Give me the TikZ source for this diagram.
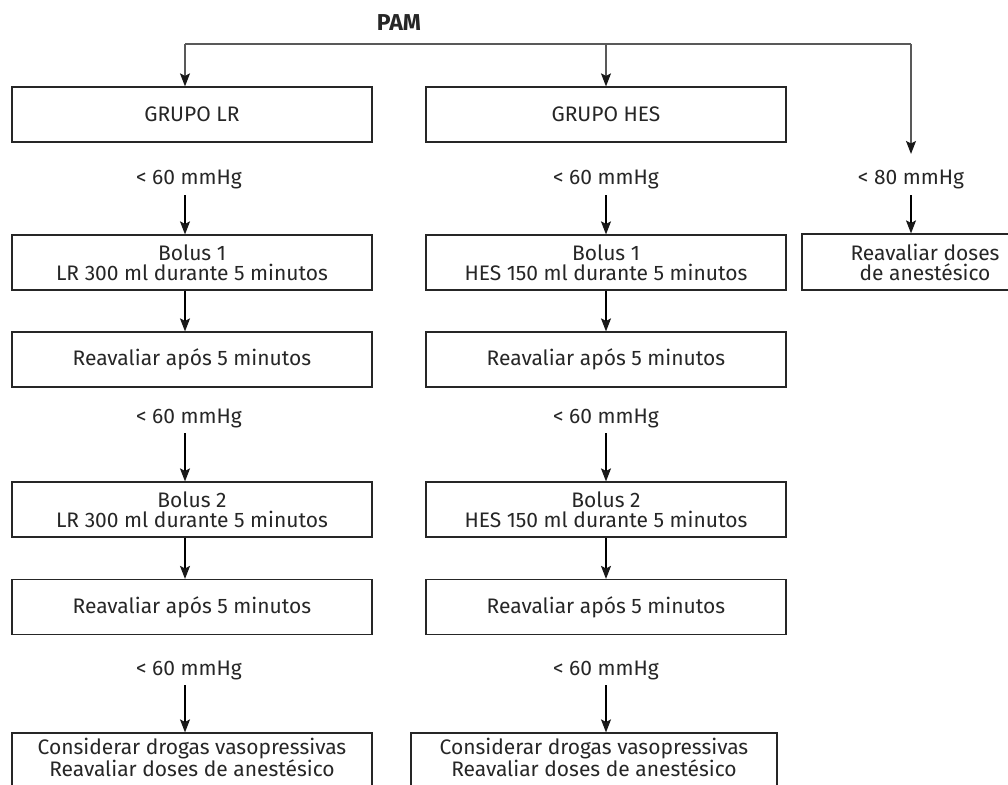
\documentclass[tikz,border=0pt]{standalone}
\usepackage{fontspec}
\setmainfont{Fira Sans}
\usetikzlibrary{arrows.meta}

\begin{document}
\begin{tikzpicture}[x=1pt,y=-1pt,line width=1.2pt,>={Stealth[length=13pt,width=10pt,inset=2.5pt,color=black!90]},
  box/.style={rectangle,draw=black!85,minimum width=360pt,minimum height=55pt,inner sep=0pt,
    align=center,text=black!85,font=\fontsize{21}{20}\selectfont},
  cond/.style={inner sep=0pt,text=black!85,font=\fontsize{21}{20}\selectfont},
  link/.style={draw=black!65}]

  \useasboundingbox (0,0) rectangle (1008,784);

  % title and the three branches
  \node[text=black!85,font=\fontsize{23}{24}\selectfont\bfseries] (pam) at (399,23) {PAM};
  \coordinate (tl) at (185,44);
  \coordinate (tm) at (606,44);
  \coordinate (tr) at (911,44);

  % LR column
  \node[box] (lr) at (192,114.5) {GRUPO LR};
  \node[cond] (lrc1) at (189,180) {< 60 mmHg};
  \node[box] (lrb1) at (192,262.5) {Bolus 1\\LR 300 ml durante 5 minutos};
  \node[box] (lrr1) at (192,359.5) {Reavaliar após 5 minutos};
  \node[cond] (lrc2) at (189,418) {< 60 mmHg};
  \node[box] (lrb2) at (192,509.5) {Bolus 2\\LR 300 ml durante 5 minutos};
  \node[box] (lrr2) at (192,607) {Reavaliar após 5 minutos};
  \node[cond] (lrc3) at (189,670) {< 60 mmHg};
  \node[box,minimum height=58pt,text depth=9pt] (lrf) at (192,762) {Considerar drogas vasopressivas\\Reavaliar doses de anestésico};

  % HES column
  \node[box] (hes) at (606,114.5) {GRUPO HES};
  \node[cond] (hesc1) at (606,180) {< 60 mmHg};
  \node[box] (hesb1) at (606,262.5) {Bolus 1\\HES 150 ml durante 5 minutos};
  \node[box] (hesr1) at (606,359.5) {Reavaliar após 5 minutos};
  \node[cond] (hesc2) at (606,418) {< 60 mmHg};
  \node[box] (hesb2) at (606,509.5) {Bolus 2\\HES 150 ml durante 5 minutos};
  \node[box] (hesr2) at (606,607) {Reavaliar após 5 minutos};
  \node[cond] (hesc3) at (606,670) {< 60 mmHg};
  \node[box,minimum width=366pt,minimum height=58pt,text depth=9pt] (hesf) at (594,762) {Considerar drogas vasopressivas\\Reavaliar doses de anestésico};

  % right branch
  \node[cond] (rc) at (911,180) {< 80 mmHg};
  \node[box,minimum width=246pt,minimum height=56pt] (rb) at (925,262) {Reavaliar doses\\de anestésico};

  \draw[link] (tl) -- (tr);
  \draw[link,->] (tl) -- (lr.north -| tl);
  \draw[link,->] (tm) -- (hes.north -| tm);
  \draw[link,->] (tr) -- ([yshift=16pt]rc.north);
  \draw[->] ([yshift=-5pt]rc.south) -- (rc.south |- rb.north);

  % LR arrows
  \draw[->] ([yshift=-5pt]lrc1.south -| tl) -- (lrb1.north -| tl);
  \draw[->] (lrb1.south -| tl) -- (lrr1.north -| tl);
  \draw[->] ([yshift=-5pt]lrc2.south -| tl) -- (lrb2.north -| tl);
  \draw[->] (lrb2.south -| tl) -- (lrr2.north -| tl);
  \draw[->] ([yshift=-5pt]lrc3.south -| tl) -- (lrf.north -| tl);

  % HES arrows
  \draw[->] ([yshift=-5pt]hesc1.south) -- (hesb1.north -| tm);
  \draw[->] (hesb1.south) -- (hesr1.north);
  \draw[->] ([yshift=-5pt]hesc2.south) -- (hesb2.north -| tm);
  \draw[->] (hesb2.south) -- (hesr2.north);
  \draw[->] ([yshift=-5pt]hesc3.south) -- (hesf.north -| tm);
\end{tikzpicture}
\end{document}
